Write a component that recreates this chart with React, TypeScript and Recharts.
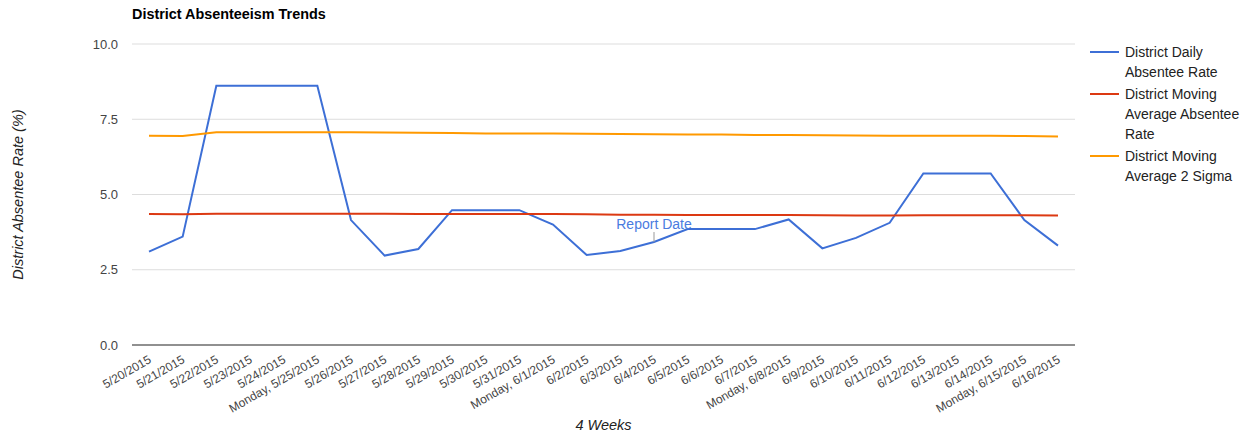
import { LineChart, Line, XAxis, YAxis, CartesianGrid, ReferenceLine } from 'recharts';

const FONT = '"Liberation Sans", Arial, sans-serif';

const dates = [
  '5/20/2015', '5/21/2015', '5/22/2015', '5/23/2015', '5/24/2015', 'Monday, 5/25/2015', '5/26/2015',
  '5/27/2015', '5/28/2015', '5/29/2015', '5/30/2015', '5/31/2015', 'Monday, 6/1/2015', '6/2/2015',
  '6/3/2015', '6/4/2015', '6/5/2015', '6/6/2015', '6/7/2015', 'Monday, 6/8/2015', '6/9/2015',
  '6/10/2015', '6/11/2015', '6/12/2015', '6/13/2015', '6/14/2015', 'Monday, 6/15/2015', '6/16/2015',
];

const dailyRate = [
  3.10, 3.60, 8.61, 8.61, 8.61, 8.61, 4.15, 2.97, 3.19, 4.48, 4.48, 4.48, 4.00, 2.99,
  3.12, 3.42, 3.85, 3.85, 3.85, 4.17, 3.21, 3.56, 4.06, 5.70, 5.70, 5.70, 4.15, 3.30,
];

const movingAvg = [
  4.35, 4.34, 4.36, 4.36, 4.36, 4.36, 4.36, 4.36, 4.35, 4.35, 4.35, 4.35, 4.35, 4.34,
  4.33, 4.33, 4.32, 4.32, 4.32, 4.32, 4.31, 4.30, 4.30, 4.31, 4.31, 4.31, 4.31, 4.30,
];

const sigma2 = [
  6.95, 6.94, 7.07, 7.07, 7.07, 7.07, 7.07, 7.06, 7.05, 7.04, 7.03, 7.03, 7.03, 7.02,
  7.01, 7.00, 6.99, 6.99, 6.98, 6.98, 6.97, 6.96, 6.95, 6.95, 6.95, 6.95, 6.94, 6.93,
];

const annotations = dates.map((d) => (d === '6/4/2015' ? 'Report Date' : ''));

const yTicks = [0, 2.5, 5, 7.5, 10];

const series = [
  { key: 'daily', name: 'District Daily Absentee Rate', color: '#3d6fd6' },
  { key: 'avg', name: 'District Moving Average Absentee Rate', color: '#dc3912' },
  { key: 'sigma', name: 'District Moving Average 2 Sigma', color: '#ff9900' },
];

const data = dates.map((date, i) => ({
  date,
  daily: dailyRate[i],
  avg: movingAvg[i],
  sigma: sigma2[i],
  note: annotations[i],
}));

const DateTick = ({ x, y, payload }: any) => {
  const tx = x + 3;
  const ty = y + 17;
  return (
    <text x={tx} y={ty} transform={`rotate(-30, ${tx}, ${ty})`} textAnchor="end"
      fontSize={12} fill="#444" fontFamily={FONT}>
      {payload.value}
    </text>
  );
};

const NoteLabel = ({ x, y, index }: any) => {
  const note = annotations[index];
  if (!note) return null;
  return (
    <g>
      <line x1={x} x2={x} y1={y} y2={y - 10} stroke="#999" strokeWidth={1} />
      <text x={x} y={y - 13} textAnchor="middle" fontSize={14} fill="#4a7bdf" fontFamily={FONT}>
        {note}
      </text>
    </g>
  );
};

const YTitle = ({ viewBox }: any) => {
  const cx = 18;
  const cy = viewBox.y + viewBox.height / 2;
  return (
    <text x={cx} y={cy} transform={`rotate(-90, ${cx}, ${cy})`} textAnchor="middle"
      dominantBaseline="central" fontSize={14.5} fontStyle="italic" fill="#222" fontFamily={FONT}>
      District Absentee Rate (%)
    </text>
  );
};

export default function App() {
  return (
    <div style={{ position: 'absolute', left: 0, top: 0, width: 1253, height: 437, background: '#fff', fontFamily: FONT }}>
      <div style={{ position: 'absolute', left: 132, top: 6, fontSize: 14.4, lineHeight: '16px', fontWeight: 'bold', color: '#000' }}>
        District Absenteeism Trends
      </div>
      <LineChart width={1253} height={437} data={data} margin={{ top: 44, right: 178, bottom: 0, left: 12 }}>
        <CartesianGrid vertical={false} stroke="#ddd" />
        <XAxis dataKey="date" interval={0} tick={<DateTick />} tickLine={false} axisLine={false}
          tickSize={0} tickMargin={0} height={92} padding={{ left: 17, right: 17 }}
          label={{ value: '4 Weeks', position: 'insideBottom', offset: 7, fontSize: 14.5, fontStyle: 'italic', fill: '#222', fontFamily: FONT }} />
        <YAxis domain={[0, 10]} ticks={yTicks} width={120} tickLine={false} axisLine={false}
          tickSize={0} tickMargin={14} tickFormatter={(v: number) => v.toFixed(1)}
          tick={{ fontSize: 13, fill: '#444', fontFamily: FONT }} label={<YTitle />} />
        <ReferenceLine y={0} stroke="#333" strokeWidth={1} />
        <Line type="linear" dataKey="daily" name={series[0].name} stroke={series[0].color} strokeWidth={2}
          dot={false} isAnimationActive={false} label={<NoteLabel />} />
        <Line type="linear" dataKey="avg" name={series[1].name} stroke={series[1].color} strokeWidth={2}
          dot={false} isAnimationActive={false} />
        <Line type="linear" dataKey="sigma" name={series[2].name} stroke={series[2].color} strokeWidth={2}
          dot={false} isAnimationActive={false} />
      </LineChart>
      <div style={{ position: 'absolute', left: 1090, top: 42 }}>
        {series.map((s) => (
          <div key={s.key} style={{ display: 'flex', alignItems: 'flex-start', marginBottom: 2 }}>
            <div style={{ width: 29, height: 2, background: s.color, marginTop: 9, marginRight: 6, flexShrink: 0 }} />
            <div style={{ width: 128, fontSize: 14, lineHeight: '20px', color: '#222' }}>{s.name}</div>
          </div>
        ))}
      </div>
    </div>
  );
}
